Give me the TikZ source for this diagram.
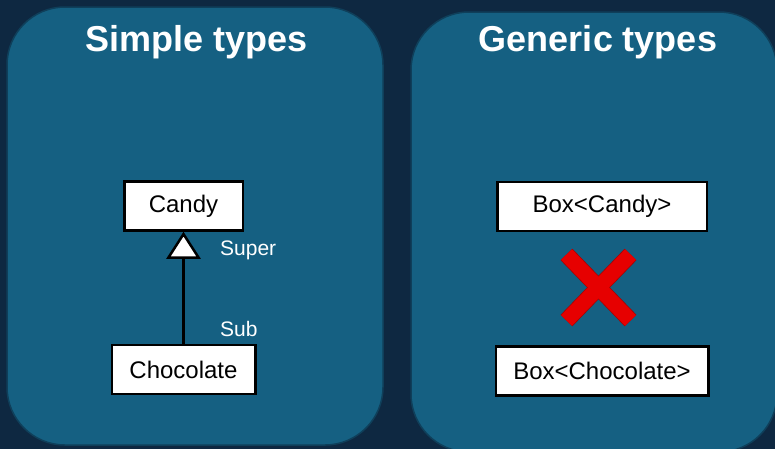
\documentclass[tikz,border=0pt]{standalone}
\usepackage{fontspec}
\setmainfont{Liberation Sans}
\usepackage{tikz}
\usetikzlibrary{arrows.meta,positioning}

\definecolor{navy}{HTML}{0E2841}
\definecolor{panelblue}{HTML}{156082}
\definecolor{panelline}{HTML}{0F3F5A}
\definecolor{crossred}{HTML}{E60000}
\definecolor{crossdark}{HTML}{A80000}

\begin{document}
\begin{tikzpicture}[
                    x=1pt, y=-1pt,
                    panel/.style={
                        fill=panelblue,
                        draw=panelline,
                        line width=1.5pt,
                        rounded corners=58pt
                    },
                    title/.style={
                        text=white,
                        anchor=base,
                        font=\bfseries\fontsize{36}{40}\selectfont
                    },
                    cls/.style={
                        draw=black,
                        fill=white,
                        line width=2.5pt,
                        minimum height=49pt,
                        inner sep=0pt,
                        font=\fontsize{24}{28}\selectfont
                    },
                    role/.style={
                        text=white,
                        anchor=base west,
                        inner sep=0pt,
                        font=\fontsize{21}{24}\selectfont
                    }
                ]

                    \useasboundingbox (0,0) rectangle (775,448);
                    \fill[navy] (-5,-5) rectangle (780,455);

                    % Panels
                    \draw[panel] (7,7) rectangle (383,445);
                    \draw[panel] (411,12) rectangle (777,452);
                    \node[title] (simple) at (197,51) {Simple types};
                    \node[title] (generic) at (598,51) {Generic types};

                    % Simple types
                    \node[cls, minimum width=118.5pt] (candy) at (183.5,206) {Candy};
                    \node[cls, minimum width=143.5pt] (choc) [below=112pt of candy] {Chocolate};
                    \node[role] (super) at (220,255) {Super};
                    \node[role] (sub) at (220,336) {Sub};

                    % Generic types
                    \node[cls, minimum width=209.5pt] (boxcandy) at (602,206.5) {Box<Candy>};
                    \node[cls, minimum width=212.5pt] (boxchoc) [below=113pt of boxcandy] {Box<Chocolate>};

                    % Edges
                    \draw[line width=2.5pt, -{Triangle[open, fill=white, length=27pt, width=34pt]}] (choc) -- (candy);

                    % Cross
                    \coordinate (xa) at (566.5,254.5);
                    \coordinate (xb) at (630.5,320.5);
                    \coordinate (xc) at (630.5,254.5);
                    \coordinate (xd) at (566.5,320.5);
                    \draw[crossdark, line width=16.5pt] (xa) -- (xb);
                    \draw[crossdark, line width=16.5pt] (xc) -- (xd);
                    \draw[crossred, line width=15pt] (xa) -- (xb);
                    \draw[crossred, line width=15pt] (xc) -- (xd);
                \end{tikzpicture}
\end{document}
